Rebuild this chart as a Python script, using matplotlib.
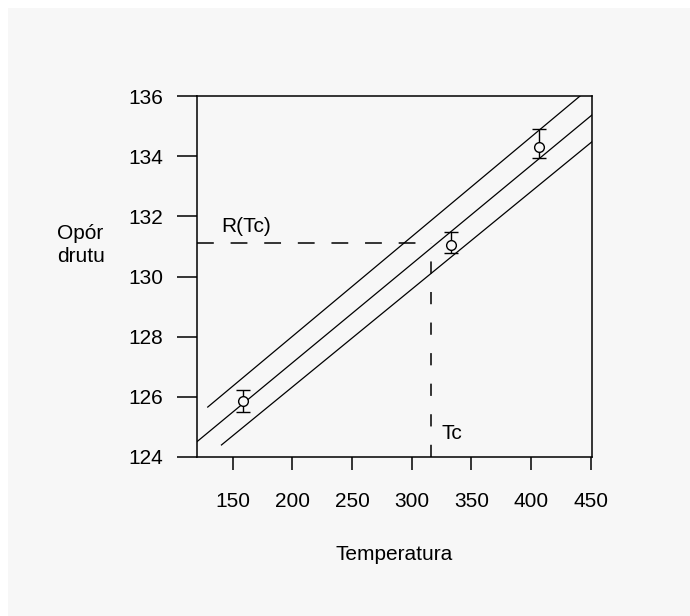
import matplotlib
import matplotlib.pyplot as plt
from matplotlib.patches import Rectangle

matplotlib.use('Agg')

# measured points (temperature, resistance) with asymmetric error bars
temp = [158.6, 332.7, 406.5]
resist = [125.86, 131.05, 134.32]
err_low = [0.35, 0.28, 0.39]
err_high = [0.37, 0.44, 0.58]

# fitted line and its confidence band, given by end points
fit_temp = [120, 451]
fit_res = [124.51, 135.37]
upper_temp = [129, 441]
upper_res = [125.66, 136.0]
lower_temp = [140.5, 451]
lower_res = [124.4, 134.48]

# critical point
tc = 316
r_tc = 131.1

x_ticks = [150, 200, 250, 300, 350, 400, 450]
y_ticks = [124, 126, 128, 130, 132, 134, 136]

plt.rcParams['font.family'] = ['Liberation Sans', 'DejaVu Sans']
bg = '#f7f7f7'

fig = plt.figure(figsize=(6.9, 6.16), dpi=100, facecolor='white')
fig.patches.append(Rectangle((8 / 690, 0), 1 - 8 / 690, 1 - 8 / 616,
                             transform=fig.transFigure, facecolor=bg,
                             edgecolor='none', zorder=-10))

ax = fig.add_axes([197 / 690, 1 - 457 / 616, (592 - 197) / 690, (457 - 96) / 616])
ax.set_facecolor(bg)

lw = 0.9
ax.plot(fit_temp, fit_res, color='black', lw=lw)
ax.plot(upper_temp, upper_res, color='black', lw=lw)
ax.plot(lower_temp, lower_res, color='black', lw=lw)

ax.errorbar(temp, resist, yerr=[err_low, err_high], fmt='o', ms=7,
            mfc=bg, mec='black', mew=1.0, ecolor='black', elinewidth=1.0,
            capsize=5, capthick=1.2, zorder=5)

ax.plot([120, tc], [r_tc, r_tc], color='black', lw=1.1, dashes=(11, 11))
ax.plot([tc, tc], [124, r_tc], color='black', lw=1.1, dashes=(8, 12))

ax.text(140, 131.48, 'R(Tc)', fontsize=15, va='baseline', ha='left')
ax.text(325, 124.6, 'Tc', fontsize=15, va='baseline', ha='left')

ax.set_xlim(120, 451)
ax.set_ylim(124, 136)
ax.set_xticks(x_ticks)
ax.set_yticks(y_ticks)
ax.tick_params(axis='y', length=14.4, width=1.1, pad=10, labelsize=15, direction='out')
ax.tick_params(axis='x', length=9.4, width=1.1, pad=16, labelsize=15, direction='out')
for s in ax.spines.values():
    s.set_linewidth(1.1)

ax.set_xlabel('Temperatura', fontsize=15, labelpad=24)
fig.text(57 / 690, 1 - 245 / 616, 'Opór\ndrutu', fontsize=15, ha='left',
         va='center', linespacing=1.3)

fig.savefig('out.png', dpi=100, facecolor='white')
